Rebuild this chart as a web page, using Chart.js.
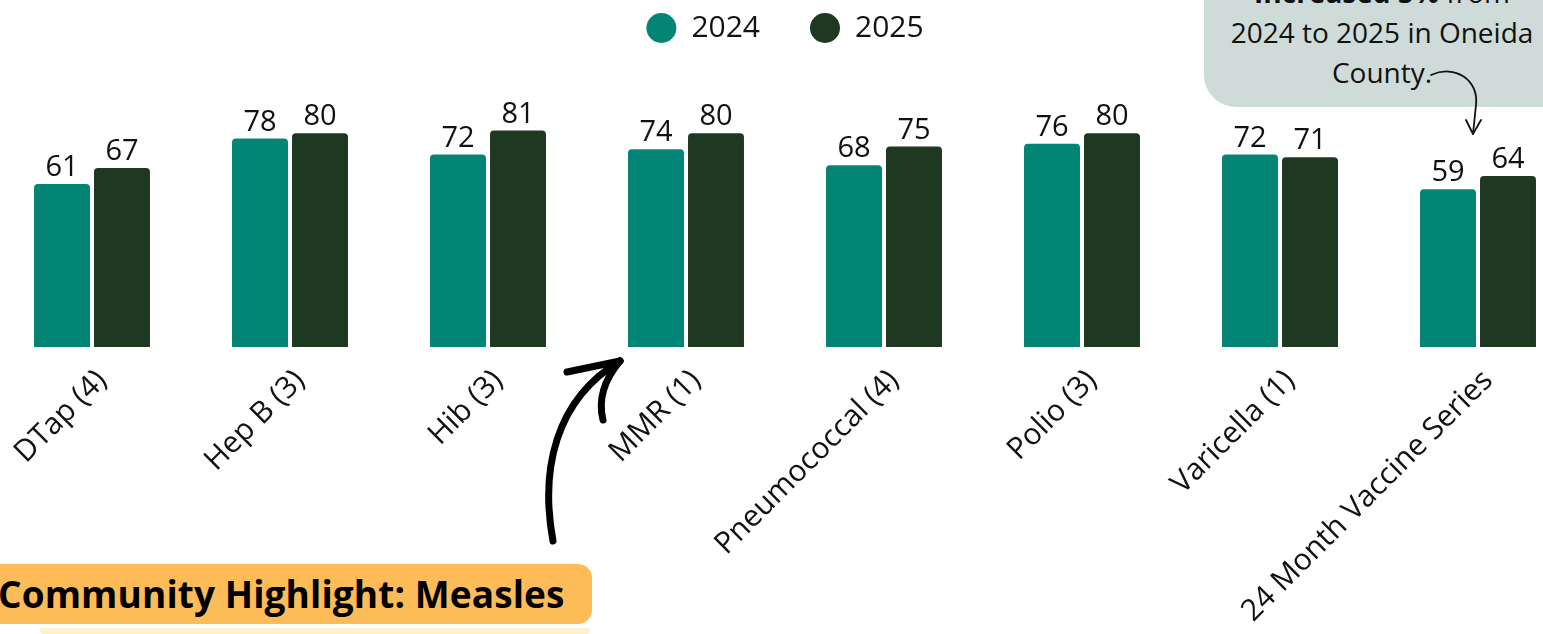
<!DOCTYPE html>
<html>
<head>
<meta charset="utf-8">
<script src="https://cdn.jsdelivr.net/npm/chart.js@4.4.1/dist/chart.umd.min.js"></script>
<style>
  html, body { margin: 0; padding: 0; width: 1543px; height: 634px; overflow: hidden; background: #ffffff; }
  #wrap { position: absolute; left: -7px; top: -37px; width: 1584px; height: 671px; }
  #chart { display: block; width: 1584px; height: 671px; }
  #callout { position: absolute; left: 1204px; top: -60px; width: 360px; height: 167px; background: #cedbd9; border-radius: 0 0 0 32px; }
  #calloutText { position: absolute; left: 1204px; top: -28px; width: 356px; text-align: center; font-family: "Open Sans", sans-serif; font-size: 28px; line-height: 40px; color: #111; }
  #highlight { position: absolute; left: -20px; top: 564px; width: 612px; height: 60px; background: #fdbc57; border-radius: 14px; }
  #highlightText { position: absolute; left: -2px; top: 564px; height: 60px; line-height: 60px; font-family: "Open Sans", sans-serif; font-weight: 700; font-size: 37px; color: #000; white-space: nowrap; letter-spacing: 0.1px; }
  #texture { position: absolute; left: 40px; top: 628px; width: 550px; height: 6px; background: #fdf0cc; border-radius: 3px; }
  svg { position: absolute; left: 0; top: 0; }
</style>
</head>
<body>
<div id="callout"></div>
<div id="calloutText"><b>Increased 5%</b> from<br>2024 to 2025 in Oneida<br>County.</div>
<div id="texture"></div>
<div id="highlight"></div>
<div id="highlightText">Community Highlight: Measles</div>
<div id="wrap"><canvas id="chart" width="1584" height="671"></canvas></div>
<svg width="1543" height="634" viewBox="0 0 1543 634">
  <path d="M553,541 C540,470 555,400 620,361" fill="none" stroke="#000" stroke-width="7" stroke-linecap="round"/>
  <path d="M567,372 L620,361" fill="none" stroke="#000" stroke-width="7" stroke-linecap="round"/>
  <path d="M620,361 C604,380 598,400 603,420" fill="none" stroke="#000" stroke-width="7" stroke-linecap="round"/>
  <path d="M1431,75 C1455,64 1479,80 1476,105 L1473,134" fill="none" stroke="#111" stroke-width="1.8" stroke-linecap="round"/>
  <path d="M1466,120 L1473,134 L1481,120" fill="none" stroke="#111" stroke-width="1.8" stroke-linecap="round" stroke-linejoin="round"/>
</svg>
<script>
const categories = ['DTap (4)', 'Hep B (3)', 'Hib (3)', 'MMR (1)', 'Pneumococcal (4)', 'Polio (3)', 'Varicella (1)', '24 Month Vaccine Series'];
const seriesNames = ['2024', '2025'];
const values2024 = [61, 78, 72, 74, 68, 76, 72, 59];
const values2025 = [67, 80, 81, 80, 75, 80, 71, 64];
const seriesColors = ['#038575', '#1e3822'];

const valueLabels = {
  id: 'valueLabels',
  afterDatasetsDraw(chart) {
    const ctx = chart.ctx;
    ctx.save();
    ctx.font = '400 29px "Open Sans", sans-serif';
    ctx.fillStyle = '#111111';
    ctx.textAlign = 'center';
    ctx.textBaseline = 'alphabetic';
    chart.data.datasets.forEach((ds, i) => {
      chart.getDatasetMeta(i).data.forEach((bar, j) => {
        ctx.fillText(String(ds.data[j]), bar.x, bar.y - 8);
      });
    });
    ctx.restore();
  }
};

new Chart(document.getElementById('chart'), {
  type: 'bar',
  data: {
    labels: categories,
    datasets: [
      { label: seriesNames[0], data: values2024, backgroundColor: seriesColors[0], borderWidth: 0, borderRadius: 4, categoryPercentage: 0.606, barPercentage: 0.933 },
      { label: seriesNames[1], data: values2025, backgroundColor: seriesColors[1], borderWidth: 0, borderRadius: 4, categoryPercentage: 0.606, barPercentage: 0.933 }
    ]
  },
  options: {
    responsive: false,
    maintainAspectRatio: false,
    animation: false,
    devicePixelRatio: 1,
    layout: { padding: 0 },
    plugins: {
      legend: {
        display: true,
        position: 'top',
        labels: {
          usePointStyle: true,
          pointStyle: 'circle',
          pointStyleWidth: 30,
          boxHeight: 21.2,
          padding: 50,
          color: '#111111',
          font: { family: '"Open Sans", sans-serif', size: 30 }
        }
      },
      tooltip: { enabled: false },
      title: { display: false }
    },
    scales: {
      x: {
        grid: { display: false },
        border: { display: false },
        ticks: {
          autoSkip: false,
          maxRotation: 45,
          minRotation: 45,
          padding: 8,
          labelOffset: 10,
          color: '#111111',
          font: { family: '"Open Sans", sans-serif', size: 30 }
        },
        afterFit(scale) { scale.height = 287; }
      },
      y: {
        display: false,
        min: 0,
        max: 110
      }
    }
  },
  plugins: [valueLabels]
});
</script>
</body>
</html>
